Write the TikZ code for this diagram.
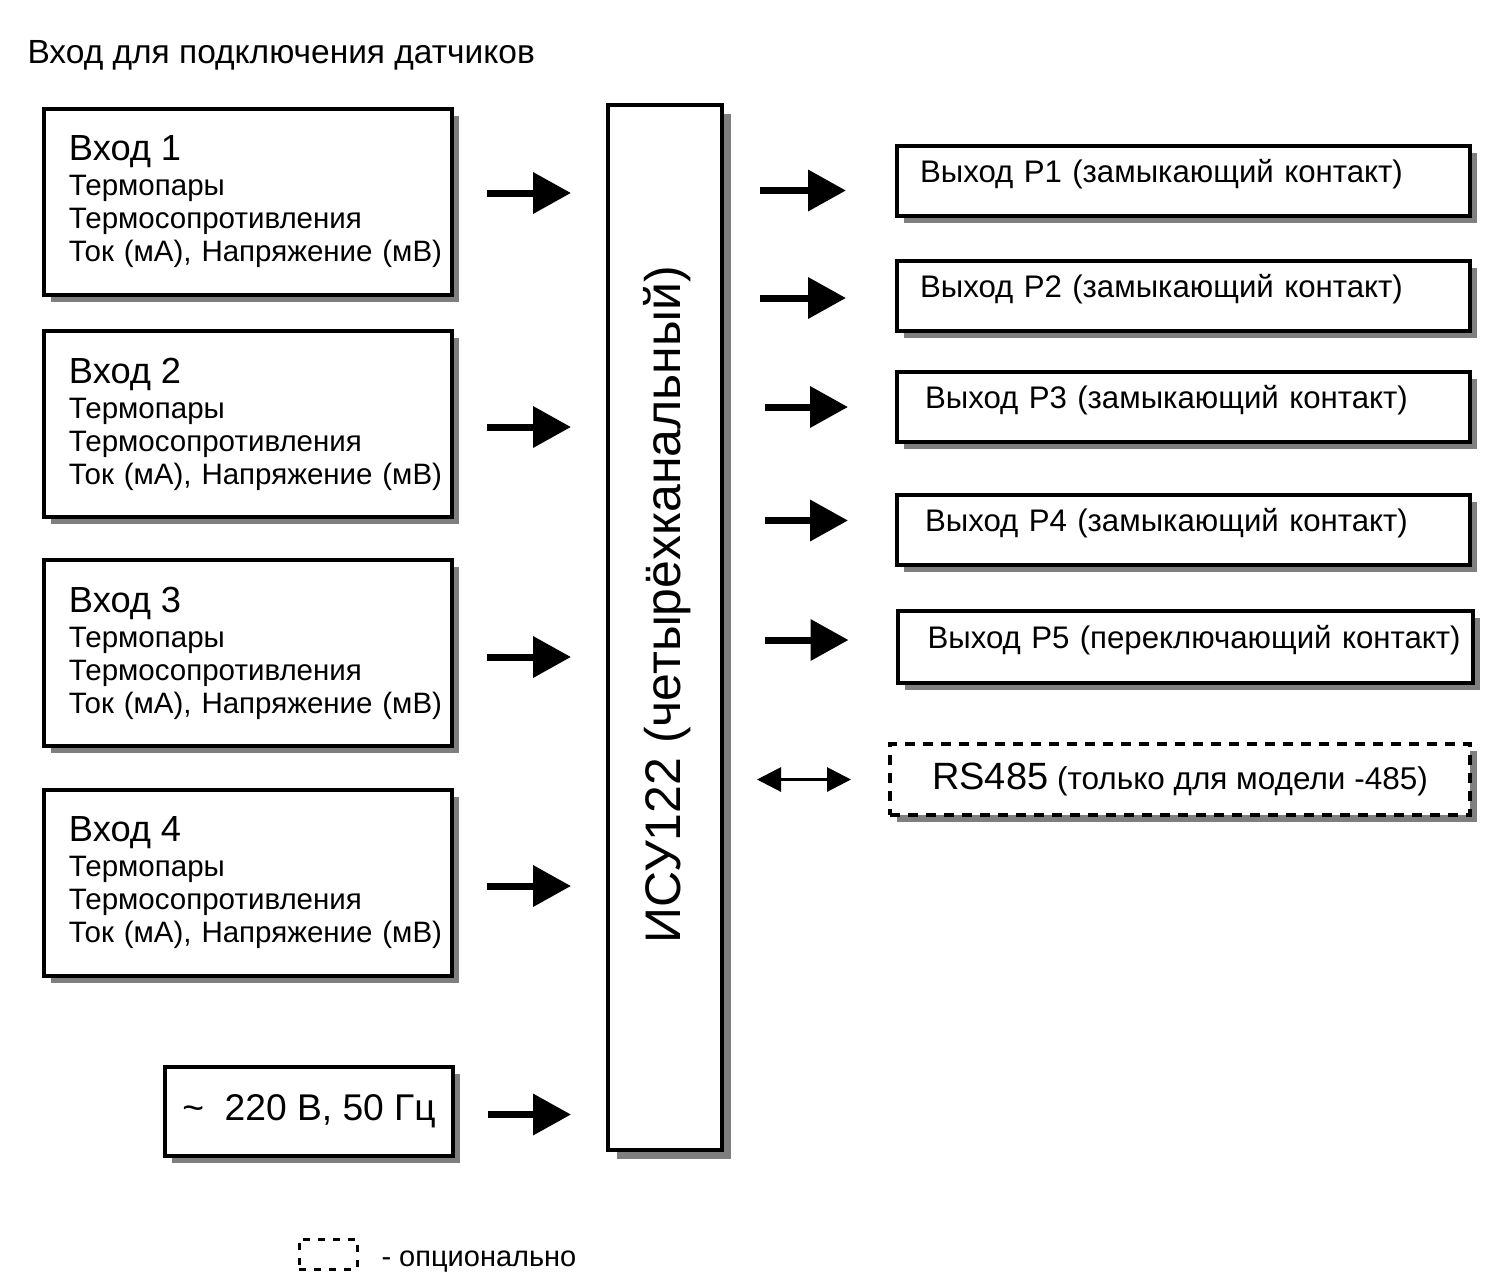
\documentclass[tikz,border=0pt]{standalone}
\usepackage{fontspec}
\setmainfont{Liberation Sans}
\usetikzlibrary{arrows.meta,shadows}

\definecolor{shadowgray}{HTML}{7F7F7F}

\tikzset{
  boxshadow/.style={drop shadow={shadow xshift=7bp, shadow yshift=-7bp, fill=shadowgray, opacity=1}},
  inbox/.style={draw, line width=4bp, fill=white, boxshadow,
    minimum width=408bp, minimum height=186bp, text width=388bp, inner xsep=10bp,
    align=left, font=\fontsize{29.5bp}{33bp}\selectfont},
  outbox/.style={draw, line width=4bp, fill=white, boxshadow,
    minimum width=573bp, minimum height=70bp, text width=553bp, inner xsep=10bp,
    align=left, text depth=20bp, font=\fontsize{31.2bp}{34bp}\selectfont},
  bigarrow/.style={line width=7bp, -{Triangle[length=38bp,width=40bp]}},
  twoway/.style={line width=3bp, {Triangle[length=24bp,width=24bp]}-{Triangle[length=24bp,width=24bp]}},
}

\newcommand{\intext}[1]{\leftskip=15bp{\fontsize{36.3bp}{37bp}\selectfont Вход #1}\\[2bp]
  Термопары\\Термосопротивления\\Ток (мА), Напряжение (мВ)\par}

\begin{document}
\begin{tikzpicture}[x=1bp, y=-1bp]
  \useasboundingbox (0,0) rectangle (1505,1273);

  \node[anchor=west, font=\fontsize{33.5bp}{33.5bp}\selectfont] (title) at (24,55) {Вход для подключения датчиков};

  % inputs
  \node[inbox] (in1) at (248,202) {\intext{1}};
  \node[inbox] (in2) at (248,424) {\intext{2}};
  \node[inbox] (in3) at (248,653) {\intext{3}};
  \node[inbox] (in4) at (248,883) {\intext{4}};
  \node[draw, line width=4bp, fill=white, boxshadow, minimum width=288bp, minimum height=89bp,
    font=\fontsize{37.2bp}{37bp}\selectfont] (pwr) at (309,1111.5) {\textasciitilde\ \ 220 В, 50 Гц};

  % main unit
  \node[draw, line width=4bp, fill=white, minimum width=114bp, minimum height=1045bp,
    drop shadow={shadow xshift=9bp, shadow yshift=-9bp, fill=shadowgray, opacity=1}] (isu) at (665,627.5) {};
  \node[rotate=90, font=\fontsize{50bp}{50bp}\selectfont] (isulabel) at ([xshift=2bp, yshift=23bp]isu.center) {ИСУ122 (четырёхканальный)};

  % outputs
  \node[outbox] (out1) at (1183.5,180.5) {\hspace*{13bp}Выход Р1 (замыкающий контакт)};
  \node[outbox] (out2) at (1183.5,296) {\hspace*{13bp}Выход Р2 (замыкающий контакт)};
  \node[outbox] (out3) at (1183.5,407) {\hspace*{18bp}Выход Р3 (замыкающий контакт)};
  \node[outbox] (out4) at (1183.5,529.5) {\hspace*{18bp}Выход Р4 (замыкающий контакт)};
  \node[outbox, minimum width=575bp, minimum height=72bp, text width=555bp] (out5) at (1185,647) {\hspace*{20bp}Выход Р5 (переключающий контакт)};
  \node[draw, line width=4bp, dash pattern=on 10bp off 8bp, fill=white, boxshadow,
    minimum width=580bp, minimum height=71bp, font=\fontsize{31.5bp}{31bp}\selectfont] (rs) at (1180,779.5)
    {{\fontsize{38bp}{38bp}\selectfont RS485}\ (только для модели -485)};

  % arrows in
  \draw[bigarrow, shorten <=33bp, shorten >=35bp] ([yshift=9bp]in1.east) -- ([yshift=9bp]in1.east -| isu.west);
  \draw[bigarrow, shorten <=33bp, shorten >=35bp] ([yshift=-3bp]in2.east) -- ([yshift=-3bp]in2.east -| isu.west);
  \draw[bigarrow, shorten <=33bp, shorten >=35bp] ([yshift=-4bp]in3.east) -- ([yshift=-4bp]in3.east -| isu.west);
  \draw[bigarrow, shorten <=33bp, shorten >=35bp] ([yshift=-3bp]in4.east) -- ([yshift=-3bp]in4.east -| isu.west);
  \draw[bigarrow, shorten <=33bp, shorten >=35bp] ([yshift=-3bp]pwr.east) -- ([yshift=-3bp]pwr.east -| isu.west);

  % arrows out
  \draw[bigarrow, shorten <=36bp, shorten >=49bp] ([yshift=-10bp]isu.east |- out1.west) -- ([yshift=-10bp]out1.west);
  \draw[bigarrow, shorten <=36bp, shorten >=49bp] ([yshift=-2bp]isu.east |- out2.west) -- ([yshift=-2bp]out2.west);
  \draw[bigarrow, shorten <=41bp, shorten >=47bp] (isu.east |- out3.west) -- (out3.west);
  \draw[bigarrow, shorten <=41bp, shorten >=47bp] ([yshift=9bp]isu.east |- out4.west) -- ([yshift=9bp]out4.west);
  \draw[bigarrow, shorten <=41bp, shorten >=47bp] ([yshift=7bp]isu.east |- out5.west) -- ([yshift=7bp]out5.west);
  \draw[twoway, shorten <=33bp, shorten >=37bp] (isu.east |- rs.west) -- (rs.west);

  % legend
  \node[draw, line width=3bp, dash pattern=on 7bp off 8bp, minimum width=58bp, minimum height=30bp] (optbox) at (328,1254) {};
  \node[anchor=west, font=\fontsize{29bp}{29bp}\selectfont] (optlabel) at (378,1262) {- опционально};
\end{tikzpicture}
\end{document}
